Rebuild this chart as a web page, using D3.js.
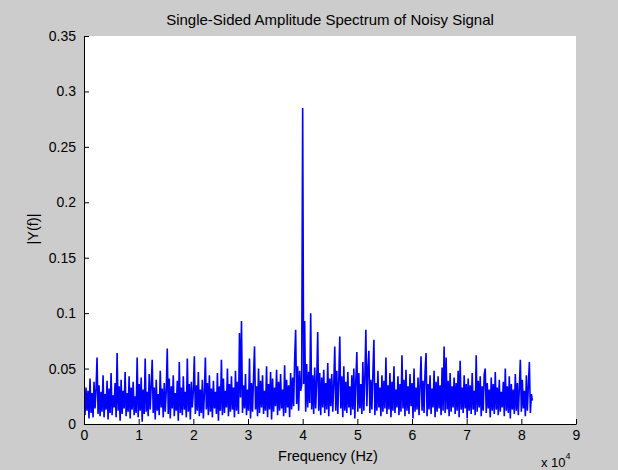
<!DOCTYPE html>
<html>
<head>
<meta charset="utf-8">
<script src="https://cdn.jsdelivr.net/npm/d3@7"></script>
<style>
  html, body { margin: 0; padding: 0; background: #cccccc; }
  svg { display: block; }
  text { font-family: "Liberation Sans", Arial, Helvetica, sans-serif; fill: #000; }
</style>
</head>
<body>
<svg id="chart" width="618" height="470"></svg>
<script>
// ---------------- data ----------------
const chartTitle = "Single-Sided Amplitude Spectrum of Noisy Signal";
const xLabel = "Frequency (Hz)";
const yLabel = "|Y(f)|";
const xTickValues = [0, 10000, 20000, 30000, 40000, 50000, 60000, 70000, 80000, 90000];
const xTickLabels = ["0", "1", "2", "3", "4", "5", "6", "7", "8", "9"];
const yTickValues = [0, 0.05, 0.1, 0.15, 0.2, 0.25, 0.3, 0.35];
const yTickLabels = ["0", "0.05", "0.1", "0.15", "0.2", "0.25", "0.3", "0.35"];
const binWidthHz = 183.49; // spacing of frequency bins
const amplitude = [
  0.036, 0.008, 0.033, 0.012, 0.030, 0.005, 0.041, 0.010, 0.028, 0.006, 0.038, 0.014, 0.031, 0.060, 0.009, 0.035,
  0.007, 0.029, 0.011, 0.044, 0.006, 0.027, 0.013, 0.039, 0.004, 0.032, 0.010, 0.046, 0.008, 0.026, 0.015, 0.037,
  0.006, 0.064, 0.012, 0.034, 0.003, 0.040, 0.009, 0.030, 0.014, 0.047, 0.007, 0.028, 0.011, 0.043, 0.005, 0.033,
  0.013, 0.038, 0.008, 0.025, 0.010, 0.060, 0.006, 0.036, 0.012, 0.042, 0.002, 0.031, 0.009, 0.059, 0.011, 0.029,
  0.007, 0.045, 0.013, 0.035, 0.058, 0.010, 0.033, 0.004, 0.040, 0.012, 0.027, 0.008, 0.048, 0.015, 0.032, 0.006,
  0.037, 0.011, 0.030, 0.068, 0.009, 0.041, 0.005, 0.034, 0.014, 0.044, 0.007, 0.028, 0.012, 0.039, 0.003, 0.056,
  0.010, 0.033, 0.008, 0.043, 0.013, 0.029, 0.006, 0.059, 0.011, 0.036, 0.004, 0.038, 0.015, 0.030, 0.061, 0.009,
  0.035, 0.012, 0.047, 0.007, 0.031, 0.010, 0.040, 0.005, 0.027, 0.060, 0.013, 0.037, 0.008, 0.044, 0.011, 0.032,
  0.006, 0.039, 0.014, 0.029, 0.009, 0.046, 0.003, 0.034, 0.012, 0.058, 0.008, 0.041, 0.010, 0.030, 0.015, 0.050,
  0.007, 0.036, 0.011, 0.043, 0.013, 0.033, 0.006, 0.048, 0.012, 0.038, 0.009, 0.082, 0.024, 0.093, 0.010, 0.035,
  0.014, 0.045, 0.008, 0.031, 0.012, 0.059, 0.005, 0.037, 0.011, 0.042, 0.070, 0.013, 0.034, 0.007, 0.050, 0.010,
  0.039, 0.015, 0.044, 0.009, 0.030, 0.012, 0.052, 0.006, 0.036, 0.013, 0.047, 0.004, 0.041, 0.011, 0.033, 0.016,
  0.049, 0.008, 0.038, 0.012, 0.045, 0.014, 0.031, 0.007, 0.053, 0.010, 0.040, 0.015, 0.035, 0.006, 0.046, 0.013,
  0.042, 0.016, 0.058, 0.085, 0.018, 0.052, 0.012, 0.048, 0.030, 0.035, 0.285, 0.036, 0.093, 0.011, 0.054, 0.015,
  0.047, 0.019, 0.100, 0.013, 0.044, 0.009, 0.051, 0.014, 0.039, 0.083, 0.012, 0.046, 0.008, 0.042, 0.015, 0.049,
  0.010, 0.037, 0.013, 0.055, 0.007, 0.041, 0.016, 0.045, 0.011, 0.036, 0.070, 0.012, 0.048, 0.009, 0.040, 0.079,
  0.014, 0.043, 0.006, 0.052, 0.012, 0.038, 0.010, 0.047, 0.015, 0.034, 0.008, 0.044, 0.013, 0.050, 0.005, 0.039,
  0.065, 0.011, 0.046, 0.014, 0.036, 0.009, 0.056, 0.012, 0.042, 0.085, 0.016, 0.050, 0.066, 0.010, 0.040, 0.013,
  0.045, 0.076, 0.008, 0.037, 0.012, 0.048, 0.015, 0.033, 0.007, 0.044, 0.011, 0.039, 0.014, 0.060, 0.009, 0.035,
  0.013, 0.046, 0.006, 0.038, 0.012, 0.052, 0.010, 0.031, 0.015, 0.043, 0.008, 0.036, 0.011, 0.062, 0.014, 0.040,
  0.007, 0.049, 0.012, 0.034, 0.009, 0.045, 0.016, 0.037, 0.005, 0.050, 0.011, 0.033, 0.013, 0.042, 0.008, 0.035,
  0.061, 0.012, 0.039, 0.010, 0.047, 0.064, 0.007, 0.036, 0.013, 0.044, 0.009, 0.032, 0.015, 0.048, 0.006, 0.038,
  0.011, 0.043, 0.014, 0.035, 0.008, 0.051, 0.012, 0.070, 0.010, 0.060, 0.013, 0.039, 0.007, 0.046, 0.011, 0.034,
  0.015, 0.042, 0.009, 0.037, 0.012, 0.048, 0.006, 0.057, 0.013, 0.033, 0.010, 0.044, 0.014, 0.036, 0.005, 0.041,
  0.012, 0.035, 0.009, 0.046, 0.013, 0.030, 0.008, 0.062, 0.011, 0.039, 0.015, 0.043, 0.007, 0.034, 0.012, 0.045,
  0.050, 0.010, 0.037, 0.014, 0.031, 0.006, 0.042, 0.012, 0.036, 0.009, 0.047, 0.013, 0.033, 0.008, 0.040, 0.011,
  0.029, 0.015, 0.038, 0.007, 0.050, 0.012, 0.034, 0.010, 0.043, 0.005, 0.036, 0.013, 0.031, 0.009, 0.045, 0.012,
  0.037, 0.008, 0.033, 0.058, 0.011, 0.040, 0.014, 0.030, 0.007, 0.044, 0.012, 0.035, 0.056, 0.010, 0.027, 0.021
];

// ---------------- layout ----------------
const svg = d3.select("#chart");
const W = 618, H = 470;
const plot = { left: 84, right: 576, top: 36, bottom: 424 };

svg.append("rect").attr("width", W).attr("height", H).attr("fill", "#cccccc");
svg.append("rect")
  .attr("x", plot.left).attr("y", plot.top)
  .attr("width", plot.right - plot.left).attr("height", plot.bottom - plot.top)
  .attr("fill", "#ffffff");

const x = d3.scaleLinear().domain([0, 90000]).range([plot.left, plot.right]);
const y = d3.scaleLinear().domain([0, 0.35]).range([plot.bottom, plot.top]);

// ---------------- line ----------------
svg.append("clipPath").attr("id", "clip")
  .append("rect")
  .attr("x", plot.left).attr("y", plot.top)
  .attr("width", plot.right - plot.left).attr("height", plot.bottom - plot.top);

const pts = amplitude.map((v, i) => [i * binWidthHz, v]);
svg.append("path")
  .datum(pts)
  .attr("clip-path", "url(#clip)")
  .attr("fill", "none")
  .attr("stroke", "#0000ff")
  .attr("stroke-width", 1.6)
  .attr("stroke-linejoin", "miter")
  .attr("d", d3.line().x(d => x(d[0])).y(d => y(d[1])));

// ---------------- axes ----------------
const xAxis = d3.axisBottom(x)
  .tickValues(xTickValues)
  .tickFormat((d, i) => xTickLabels[i])
  .tickSizeInner(-5).tickSizeOuter(0).tickPadding(6);
const yAxis = d3.axisLeft(y)
  .tickValues(yTickValues)
  .tickFormat((d, i) => yTickLabels[i])
  .tickSizeInner(-5).tickSizeOuter(0).tickPadding(8);

const gx = svg.append("g").attr("transform", `translate(0,${plot.bottom})`).call(xAxis);
const gy = svg.append("g").attr("transform", `translate(${plot.left},0)`).call(yAxis);
[gx, gy].forEach(g => {
  g.select(".domain").attr("stroke", "#000").attr("stroke-width", 1);
  g.selectAll(".tick line").attr("stroke", "#000");
  g.selectAll(".tick text")
    .attr("font-family", '"Liberation Sans", Arial, sans-serif')
    .attr("font-size", 14).attr("fill", "#000");
});

// ---------------- labels ----------------
svg.append("text")
  .attr("x", (plot.left + plot.right) / 2).attr("y", 25)
  .attr("text-anchor", "middle").attr("font-size", 15)
  .text(chartTitle);

svg.append("text")
  .attr("x", 328).attr("y", 461)
  .attr("text-anchor", "middle").attr("font-size", 14.5)
  .text(xLabel);

svg.append("text")
  .attr("transform", `translate(38,229) rotate(-90)`)
  .attr("text-anchor", "middle").attr("font-size", 14.5)
  .text(yLabel);

const mult = svg.append("text")
  .attr("x", 541).attr("y", 467)
  .attr("font-size", 13);
mult.append("tspan").text("x 10");
mult.append("tspan").attr("dy", -8).attr("font-size", 9).text("4");
</script>
</body>
</html>
